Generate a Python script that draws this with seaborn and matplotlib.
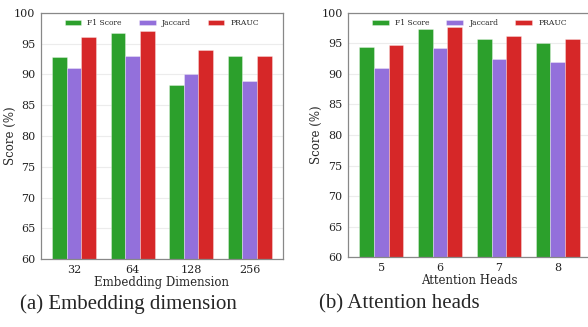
import pandas as pd
import seaborn as sns
import matplotlib.pyplot as plt

metrics = ["F1 Score", "Jaccard", "PRAUC"]
colors = ["#2ca02c", "#9370db", "#d62728"]

emb_dims = ["32", "64", "128", "256"]
emb_f1 = [92.9, 96.7, 88.3, 93.0]
emb_jac = [91.0, 93.0, 90.0, 89.0]
emb_prauc = [96.0, 97.0, 94.0, 93.0]

heads = ["5", "6", "7", "8"]
head_f1 = [94.4, 97.4, 95.7, 95.1]
head_jac = [90.9, 94.2, 92.5, 91.9]
head_prauc = [94.7, 97.6, 96.2, 95.7]


def to_long(cats, f1, jac, prauc):
    rows = []
    for i, c in enumerate(cats):
        for m, v in zip(metrics, [f1[i], jac[i], prauc[i]]):
            rows.append({"cat": c, "metric": m, "score": v})
    return pd.DataFrame(rows)


sns.set_theme(style="whitegrid")
plt.rcParams["font.family"] = ["DejaVu Serif"]

fig = plt.figure(figsize=(5.88, 3.27), dpi=100)
ax1 = fig.add_axes([0.0697, 0.207, 0.411, 0.754])
ax2 = fig.add_axes([0.592, 0.213, 0.413, 0.748])

panels = [
    (ax1, to_long(emb_dims, emb_f1, emb_jac, emb_prauc), emb_dims, "Embedding Dimension"),
    (ax2, to_long(heads, head_f1, head_jac, head_prauc), heads, "Attention Heads"),
]

for ax, df, cats, xlabel in panels:
    sns.barplot(data=df, x="cat", y="score", hue="metric", order=cats,
                hue_order=metrics, palette=colors, width=0.75, saturation=1,
                edgecolor=(1, 1, 1, 0.45), linewidth=0.5, ax=ax)
    ax.set_ylim(60, 100)
    ax.set_xlim(-0.565, 3.565)
    ax.set_yticks(range(60, 101, 5))
    ax.set_xlabel(xlabel, fontsize=8.5, labelpad=1)
    ax.set_ylabel("Score (%)", fontsize=8.5)
    ax.tick_params(axis="both", labelsize=8, length=2.5, width=0.6,
                   pad=1.5, colors="#222222")
    ax.tick_params(axis="both", color="#888888")
    ax.grid(axis="y", color="#ececec", linewidth=0.8)
    ax.grid(axis="x", visible=False)
    ax.set_axisbelow(True)
    for s in ax.spines.values():
        s.set_color("#888888")
        s.set_linewidth(0.9)
    ax.legend(loc="upper center", ncol=3, frameon=False, fontsize=5.5,
              handlelength=2.2, handleheight=0.7, columnspacing=2.2,
              borderaxespad=0.4)

# y label positions in axes coords, matching the reference offsets
ax1.yaxis.set_label_coords(-0.1, 0.5)
ax2.yaxis.set_label_coords(-0.103, 0.5)

fig.text(0.218, 0.07, "(a) Embedding dimension", fontsize=15,
         family="Liberation Serif", ha="center", va="center")
fig.text(0.679, 0.07, "(b) Attention heads", fontsize=15,
         family="Liberation Serif", ha="center", va="center")

fig.savefig("out.png", dpi=100)
